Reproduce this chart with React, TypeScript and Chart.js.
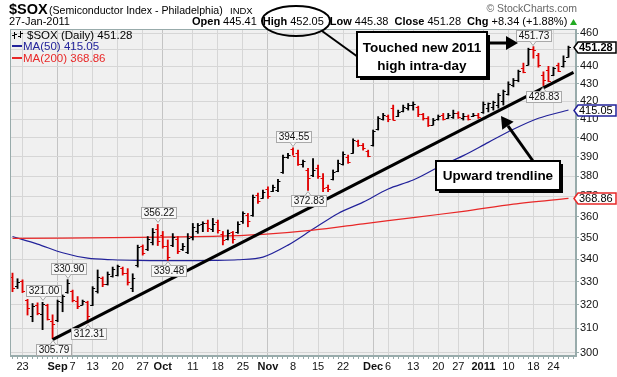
import React, { useEffect, useRef } from "react";
import { Chart, registerables } from "chart.js";
Chart.register(...registerables);

const FONT = "'Liberation Sans', Arial, Helvetica, sans-serif";

// ---- trading days ----
const augDays = [19, 20, 23, 24, 25, 26, 27, 30, 31];
const sepDays = [1, 2, 3, 7, 8, 9, 10, 13, 14, 15, 16, 17, 20, 21, 22, 23, 24, 27, 28, 29, 30];
const octDays = [1, 4, 5, 6, 7, 8, 11, 12, 13, 14, 15, 18, 19, 20, 21, 22, 25, 26, 27, 28, 29];
const novDays = [1, 2, 3, 4, 5, 8, 9, 10, 11, 12, 15, 16, 17, 18, 19, 22, 23, 24, 26, 29, 30];
const decDays = [1, 2, 3, 6, 7, 8, 9, 10, 13, 14, 15, 16, 17, 20, 21, 22, 23, 27, 28, 29, 30, 31];
const janDays = [3, 4, 5, 6, 7, 10, 11, 12, 13, 14, 18, 19, 20, 21, 24, 25, 26, 27];
const spareSlot = ["Jan 28"]; // empty slot at right edge

const days: string[] = [
  ...augDays.map((d) => `Aug ${d}`),
  ...sepDays.map((d) => `Sep ${d}`),
  ...octDays.map((d) => `Oct ${d}`),
  ...novDays.map((d) => `Nov ${d}`),
  ...decDays.map((d) => `Dec ${d}`),
  ...janDays.map((d) => `Jan ${d}`),
  ...spareSlot,
];

// ---- OHLC ----
const open = [
  332, 328, 330.5, 322, 315, 320, 316, 319.8, 313, 313.5, 321, 325.5, 326, 321.5, 320, 321, 320, 326, 331.5, 329,
  332.5, 333, 336, 334, 327, 337.5, 346, 344.5, 348, 354, 351, 346, 346.5, 349.5, 344.5, 343.5, 350.5, 353, 356.5, 357,
  354, 357.5, 351.5, 349.5, 352.5, 352.5, 358, 360.5, 360.5, 370.5, 369, 373.5, 372.5, 373, 382, 390, 394, 392, 386, 383,
  380.5, 384, 379, 374.5, 378.5, 382.5, 386, 390, 392, 398, 396, 393, 396, 404.5, 410, 412, 416, 411.5, 414.5, 416,
  418, 417, 413, 410.5, 407, 410, 412.5, 410.5, 411, 413.5, 410.5, 412, 411.5, 412.5, 414, 416, 417, 418, 420, 424,
  429, 432, 439, 441, 450.5, 447, 435, 438, 435, 441, 440, 445.41,
];
const high = [
  333.8, 331.3, 330.8, 322.3, 320.5, 320.8, 321, 320.2, 315.7, 322, 324.2, 330.9, 326.3, 323.5, 322, 321.5, 327.8, 335.2, 332.1, 334.3,
  336.5, 337.4, 336.5, 335.8, 333.5, 346.5, 346.6, 350.5, 354.3, 356.22, 352.9, 348.9, 351.9, 350.5, 347.3, 351.9, 356.7, 356.7, 357.5, 358.3,
  359.1, 358.3, 352.9, 353.6, 352.9, 357.5, 362.3, 361.5, 370.5, 371.4, 373, 374.6, 375.5, 378.3, 390.8, 391.7, 394.55, 393.4, 388.2, 384,
  389, 385.6, 381.3, 375.5, 383.1, 388.2, 392.5, 390.8, 399.4, 398.7, 396.9, 393.4, 404.1, 411.4, 413.2, 412.3, 417.8, 415, 417.8, 418.7,
  419.6, 417.2, 413.2, 411.4, 410.4, 412.3, 413.2, 413.2, 415, 414.1, 413.2, 412.3, 413.2, 413.2, 419.6, 419, 420, 424.3, 426.3, 431,
  432.9, 437.8, 441.9, 450.8, 451.73, 447.7, 436.8, 440, 439.5, 441.9, 446.2, 452.05,
];
const low = [
  325.6, 327, 325.2, 315.6, 312.8, 315.7, 309.5, 313.5, 305.79, 312.8, 317, 324.9, 321.2, 318.3, 319.9, 312.31, 319.6, 325, 327.8, 328.5,
  332, 332.5, 332.9, 328.5, 325.6, 336.5, 341.9, 344, 346.6, 346.3, 345.1, 339.48, 345.8, 342.6, 344, 342.6, 348.9, 352, 352.8, 352.8,
  352.8, 352.1, 346.6, 348.9, 347.4, 352, 356.7, 355.1, 360.1, 366.4, 368.8, 368.8, 372.2, 372.2, 381.4, 389.1, 390.8, 385.5, 384.6, 372.83,
  379.7, 378.8, 372.2, 372.2, 378, 382.2, 385.6, 386.5, 391.7, 395.3, 393.4, 389.9, 395.5, 404.1, 409.5, 408.6, 409.5, 411.4, 414, 415,
  415, 411.4, 409.5, 406, 406.8, 409.5, 409.5, 410.4, 410.4, 410.4, 409.5, 409.5, 411.4, 410.4, 413.2, 414, 415, 416.1, 417.8, 423.4,
  428.1, 431, 436.2, 440.7, 444.8, 439.5, 428.83, 431, 434.5, 436.9, 439.5, 445.38,
];
const close = [
  327, 330, 325.8, 318.5, 319.5, 316.5, 320.5, 314, 312, 321.5, 323.8, 329.5, 322, 319.5, 321.5, 315, 327, 332, 329, 333.5,
  335.5, 336.8, 334, 330, 331.5, 345.5, 343, 349.5, 352.5, 348.5, 346, 341, 350.5, 344, 346, 350, 355, 356, 357, 354.5,
  356.5, 353.5, 349, 352, 349.5, 356.5, 361.5, 358, 369.5, 367.5, 372, 370, 374.5, 377.5, 390, 391, 390.5, 386, 387.5, 379,
  383, 380, 374, 373.5, 382, 386.5, 391.5, 387, 398.5, 396, 394.5, 390.5, 403.5, 410.5, 412.5, 410, 409.8, 414, 417, 418,
  418.5, 413, 410.5, 407, 409.5, 411.5, 410, 412.5, 413.5, 411, 412, 410, 412.5, 411, 418.5, 418.8, 419.5, 423.5, 425.5, 430,
  432, 437, 436.5, 450.5, 449.5, 440.5, 432, 431.5, 439, 437.5, 442.94, 451.28,
];

// ---- moving averages (read at weekly points) ----
const ma50Days = ["Aug 19", "Aug 26", "Sep 2", "Sep 10", "Sep 17", "Sep 24", "Oct 1", "Oct 8", "Oct 15", "Oct 22", "Oct 29", "Nov 5", "Nov 12", "Nov 19", "Nov 29", "Dec 6", "Dec 13", "Dec 20", "Dec 28", "Jan 4", "Jan 11", "Jan 19", "Jan 27"];
const ma50Values = [350.5, 347, 343, 340.5, 339.8, 339.5, 339.4, 339.4, 339.5, 339.8, 341, 346.5, 354, 361.5, 367, 373.5, 378, 384.5, 390.5, 397.5, 404.5, 410.5, 415.05];
const ma200Days = ["Aug 19", "Sep 17", "Oct 15", "Oct 29", "Nov 12", "Nov 29", "Dec 13", "Dec 28", "Jan 11", "Jan 27"];
const ma200Values = [349.6, 350, 350.6, 351.5, 353.5, 356.5, 359.5, 362.5, 366, 368.86];

// ---- trendline ----
const trendDays = ["Aug 31", "Jan 28"];
const trendValues = [305.4, 436.5];

// ---- swing labels ----
const swingDays = ["Aug 27", "Aug 31", "Sep 3", "Sep 10", "Sep 30", "Oct 4", "Nov 8", "Nov 11", "Jan 18", "Jan 20"];
const swingKinds = ["high", "low", "high", "low", "high", "low", "high", "low", "high", "low"];

// ---- axis ticks ----
const yTicks = [300, 310, 320, 330, 340, 350, 360, 370, 380, 390, 400, 410, 420, 430, 440, 450, 460];
const tickDays = ["Aug 23", "Sep 1", "Sep 7", "Sep 13", "Sep 20", "Sep 27", "Oct 1", "Oct 11", "Oct 18", "Oct 25", "Nov 1", "Nov 8", "Nov 15", "Nov 22", "Dec 1", "Dec 6", "Dec 13", "Dec 20", "Dec 27", "Jan 3", "Jan 10", "Jan 18", "Jan 24"];
const tickTexts = ["23", "Sep", "7", "13", "20", "27", "Oct", "11", "18", "25", "Nov", "8", "15", "22", "Dec", "6", "13", "20", "27", "2011", "10", "18", "24"];
const monthTicks = ["Sep", "Oct", "Nov", "Dec", "2011"];

const tickMap: Record<string, string> = {};
tickDays.forEach((d, i) => (tickMap[d] = tickTexts[i]));

function sparse(keys: string[], vals: number[]) {
  return days.map((d) => {
    const k = keys.indexOf(d);
    return k >= 0 ? vals[k] : null;
  });
}

const BLACK = "#000000";
const RED = "#e00000";
const BLUE = "#22229a";
const MARED = "#e82828";
const FRAME = "#98abab";

function barColor(i: number) {
  const prev = i > 0 ? close[i - 1] : open[i];
  return close[i] >= prev ? BLACK : RED;
}

function priceLabel(ctx: CanvasRenderingContext2D, x: number, y: number, text: string, above: boolean) {
  ctx.font = `10px ${FONT}`;
  const w = Math.round(ctx.measureText(text).width + 4);
  const h = 11;
  const bx = Math.round(x - w / 2) + 0.5;
  const by = above ? Math.round(y - 6 - h) + 0.5 : Math.round(y + 5) + 0.5;
  ctx.fillStyle = "#f8f8f8";
  ctx.strokeStyle = "#a9a9a9";
  ctx.lineWidth = 1;
  ctx.fillRect(bx, by, w, h);
  ctx.strokeRect(bx, by, w, h);
  ctx.beginPath();
  if (above) {
    ctx.moveTo(x - 3, by + h);
    ctx.lineTo(x, by + h + 4);
    ctx.lineTo(x + 3, by + h);
  } else {
    ctx.moveTo(x - 3, by);
    ctx.lineTo(x, by - 4);
    ctx.lineTo(x + 3, by);
  }
  ctx.fillStyle = "#f8f8f8";
  ctx.fill();
  ctx.stroke();
  ctx.fillStyle = "#111";
  ctx.textAlign = "center";
  ctx.textBaseline = "middle";
  ctx.fillText(text, bx + w / 2, by + h / 2 + 0.5);
}

function valueBox(ctx: CanvasRenderingContext2D, x0: number, y: number, text: string, color: string, bold: boolean, lw: number) {
  const yy = Math.round(y) + 0.5;
  const left = x0 + 4;
  const right = 616;
  const h = 11;
  ctx.beginPath();
  ctx.moveTo(x0, yy);
  ctx.lineTo(left, yy - h / 2);
  ctx.lineTo(right, yy - h / 2);
  ctx.lineTo(right, yy + h / 2);
  ctx.lineTo(left, yy + h / 2);
  ctx.closePath();
  ctx.fillStyle = "#fff";
  ctx.fill();
  ctx.strokeStyle = color;
  ctx.lineWidth = lw;
  ctx.stroke();
  ctx.fillStyle = "#000";
  ctx.font = `${bold ? "bold " : ""}11px ${FONT}`;
  ctx.textAlign = "left";
  ctx.textBaseline = "middle";
  ctx.fillText(text, left + 1, yy + 0.5);
}

function arrow(ctx: CanvasRenderingContext2D, x1: number, y1: number, x2: number, y2: number) {
  const ang = Math.atan2(y2 - y1, x2 - x1);
  const hl = 12;
  const hw = 7;
  const bx = x2 - hl * Math.cos(ang);
  const by = y2 - hl * Math.sin(ang);
  ctx.strokeStyle = "#000";
  ctx.lineWidth = 3;
  ctx.beginPath();
  ctx.moveTo(x1, y1);
  ctx.lineTo(bx, by);
  ctx.stroke();
  ctx.fillStyle = "#000";
  ctx.beginPath();
  ctx.moveTo(x2, y2);
  ctx.lineTo(bx + hw * Math.sin(ang), by - hw * Math.cos(ang));
  ctx.lineTo(bx - hw * Math.sin(ang), by + hw * Math.cos(ang));
  ctx.closePath();
  ctx.fill();
}

function calloutBox(ctx: CanvasRenderingContext2D, x: number, y: number, w: number, h: number, lines: string[], baselines: number[]) {
  ctx.fillStyle = "#000";
  ctx.fillRect(x + 3, y + 3, w, h);
  ctx.fillStyle = "#fff";
  ctx.fillRect(x, y, w, h);
  ctx.strokeStyle = "#000";
  ctx.lineWidth = 2;
  ctx.strokeRect(x, y, w, h);
  ctx.fillStyle = "#000";
  ctx.font = `bold 13.5px ${FONT}`;
  ctx.textAlign = "center";
  ctx.textBaseline = "alphabetic";
  lines.forEach((t, i) => ctx.fillText(t, x + w / 2, baselines[i]));
}

const decorPlugin = {
  id: "decor",
  beforeDraw(chart: any) {
    const { ctx, chartArea: a } = chart;
    ctx.save();
    ctx.fillStyle = "#ffffff";
    ctx.fillRect(0, 0, chart.width, chart.height);
    ctx.fillStyle = "#f0f0f0";
    ctx.fillRect(a.left, a.top, a.right - a.left, a.bottom - a.top);
    ctx.restore();
  },
  afterDatasetDraw(chart: any, args: any) {
    if (args.index !== 0) return;
    const { ctx } = chart;
    const xs = chart.scales.x;
    const ys = chart.scales.y;
    ctx.save();
    ctx.lineWidth = 1;
    for (let i = 0; i < close.length; i++) {
      const px = xs.getPixelForValue(i);
      const oy = Math.round(ys.getPixelForValue(open[i])) + 0.5;
      const cy = Math.round(ys.getPixelForValue(close[i])) + 0.5;
      ctx.strokeStyle = barColor(i);
      ctx.beginPath();
      ctx.moveTo(px - 2.5, oy);
      ctx.lineTo(px, oy);
      ctx.moveTo(px, cy);
      ctx.lineTo(px + 2.5, cy);
      ctx.stroke();
    }
    ctx.restore();
  },
  afterDraw(chart: any) {
    const { ctx, chartArea: a } = chart;
    const xs = chart.scales.x;
    const ys = chart.scales.y;
    ctx.save();
    // frame
    ctx.strokeStyle = FRAME;
    ctx.lineWidth = 1;
    ctx.strokeRect(Math.round(a.left) + 0.5, Math.round(a.top) + 0.5, Math.round(a.right - a.left) - 1, Math.round(a.bottom - a.top) - 1);

    // swing labels
    swingDays.forEach((d, k) => {
      const i = days.indexOf(d);
      const isHigh = swingKinds[k] === "high";
      const v = isHigh ? high[i] : low[i];
      priceLabel(ctx, Math.round(xs.getPixelForValue(i)), ys.getPixelForValue(v), v.toFixed(2), isHigh);
    });

    // legend
    const last = close.length - 1;
    ctx.textAlign = "left";
    ctx.textBaseline = "alphabetic";
    ctx.font = `11.5px ${FONT}`;
    ctx.strokeStyle = "#000";
    ctx.lineWidth = 1;
    ctx.beginPath();
    ctx.moveTo(14.5, 32); ctx.lineTo(14.5, 39);
    ctx.moveTo(12, 35.5); ctx.lineTo(14.5, 35.5);
    ctx.moveTo(14.5, 34.5); ctx.lineTo(17, 34.5);
    ctx.moveTo(20.5, 31); ctx.lineTo(20.5, 38);
    ctx.moveTo(18, 36.5); ctx.lineTo(20.5, 36.5);
    ctx.moveTo(20.5, 33.5); ctx.lineTo(23, 33.5);
    ctx.stroke();
    ctx.fillStyle = "#000";
    ctx.fillText(`$SOX (Daily) ${close[last].toFixed(2)}`, 27, 39);
    ctx.fillStyle = BLUE;
    ctx.fillRect(12, 45, 10, 2);
    ctx.fillText(`MA(50) ${ma50Values[ma50Values.length - 1].toFixed(2)}`, 23, 50);
    ctx.fillStyle = MARED;
    ctx.fillRect(12, 57, 10, 2);
    ctx.fillText(`MA(200) ${ma200Values[ma200Values.length - 1].toFixed(2)}`, 23, 62);

    // right value boxes
    const x0 = Math.round(a.right) - 2;
    valueBox(ctx, x0, ys.getPixelForValue(ma200Values[ma200Values.length - 1]), ma200Values[ma200Values.length - 1].toFixed(2), MARED, false, 1.5);
    valueBox(ctx, x0, ys.getPixelForValue(ma50Values[ma50Values.length - 1]), ma50Values[ma50Values.length - 1].toFixed(2), BLUE, false, 1.5);
    valueBox(ctx, x0, ys.getPixelForValue(close[last]), close[last].toFixed(2), "#000", true, 1.5);

    // header
    ctx.fillStyle = "#000";
    ctx.textAlign = "left";
    ctx.textBaseline = "alphabetic";
    ctx.font = `bold 14.5px ${FONT}`;
    ctx.fillText("$SOX", 9, 14);
    ctx.font = `10.6px ${FONT}`;
    ctx.fillText("(Semiconductor Index - Philadelphia)", 49, 14);
    ctx.font = `9.5px ${FONT}`;
    ctx.fillText("INDX", 230, 14);
    ctx.font = `11px ${FONT}`;
    ctx.fillText("27-Jan-2011", 9, 25);
    ctx.fillStyle = "#666";
    ctx.font = `10.5px ${FONT}`;
    ctx.textAlign = "right";
    ctx.fillText("\u00a9 StockCharts.com", 577, 12);
    ctx.textAlign = "left";
    const chg = close[last] - close[last - 1];
    const runs: [string, boolean][] = [
      ["Open", true], [open[last].toFixed(2), false],
      ["High", true], [high[last].toFixed(2), false],
      ["Low", true], [low[last].toFixed(2), false],
      ["Close", true], [close[last].toFixed(2), false],
      ["Chg", true], [`+${chg.toFixed(2)} (+${((chg / close[last - 1]) * 100).toFixed(2)}%)`, false],
    ];
    let hx = 192;
    ctx.fillStyle = "#000";
    runs.forEach(([t, b]) => {
      ctx.font = `${b ? "bold " : ""}11px ${FONT}`;
      ctx.fillText(t, hx, 25);
      hx += ctx.measureText(t).width + (b ? 3 : 6);
    });
    ctx.fillStyle = "#22aa22";
    ctx.beginPath();
    ctx.moveTo(570, 25);
    ctx.lineTo(577, 25);
    ctx.lineTo(573.5, 19);
    ctx.closePath();
    ctx.fill();

    // ellipse annotation
    ctx.strokeStyle = "#000";
    ctx.lineWidth = 2;
    ctx.beginPath();
    ctx.ellipse(296, 21, 34, 15, 0, 0, Math.PI * 2);
    ctx.stroke();
    ctx.beginPath();
    ctx.moveTo(322, 31);
    ctx.lineTo(358, 57);
    ctx.stroke();

    // callouts
    calloutBox(ctx, 357, 32, 130, 45, ["Touched new 2011", "high intra-day"], [52, 70]);
    arrow(ctx, 488, 43, 518, 43);
    calloutBox(ctx, 436, 161, 124, 29, ["Upward trendline"], [180]);
    arrow(ctx, 533, 161, 501, 116);

    ctx.restore();
  },
};

export default function App() {
  const ref = useRef<HTMLCanvasElement | null>(null);
  useEffect(() => {
    if (!ref.current) return;
    const ohlcRange = days.map((_, i) => (i < close.length ? [low[i], high[i]] : null));
    const chart = new Chart(ref.current, {
      type: "bar",
      data: {
        labels: days,
        datasets: [
          {
            type: "bar",
            label: "$SOX",
            data: ohlcRange as any,
            backgroundColor: days.map((_, i) => (i < close.length ? barColor(i) : BLACK)),
            borderWidth: 0,
            barThickness: 1.2,
            order: 2,
          },
          {
            type: "line",
            label: "MA(50)",
            data: sparse(ma50Days, ma50Values) as any,
            borderColor: BLUE,
            borderWidth: 1.2,
            pointRadius: 0,
            spanGaps: true,
            tension: 0.3,
            order: 4,
          },
          {
            type: "line",
            label: "MA(200)",
            data: sparse(ma200Days, ma200Values) as any,
            borderColor: MARED,
            borderWidth: 1.2,
            pointRadius: 0,
            spanGaps: true,
            tension: 0.3,
            order: 3,
          },
          {
            type: "line",
            label: "Trend",
            data: sparse(trendDays, trendValues) as any,
            borderColor: "#000",
            borderWidth: 3,
            pointRadius: 0,
            spanGaps: true,
            order: 0,
          },
        ],
      },
      options: {
        animation: false,
        responsive: false,
        maintainAspectRatio: false,
        devicePixelRatio: 1,
        layout: { padding: { left: 10, top: 29, right: 0, bottom: 0 } },
        plugins: { legend: { display: false }, tooltip: { enabled: false } },
        scales: {
          x: {
            type: "category",
            offset: true,
            grid: {
              offset: false,
              color: (c: any) => {
                const t = tickMap[days[c.index]];
                if (!t) return "rgba(0,0,0,0)";
                return monthTicks.includes(t) ? "#c4c4c4" : "#d6d6d6";
              },
              tickColor: FRAME,
              tickLength: 3,
              lineWidth: 1,
            },
            border: { color: FRAME },
            ticks: {
              autoSkip: false,
              maxRotation: 0,
              minRotation: 0,
              padding: 1,
              color: "#111",
              font: (c: any) => {
                const t = tickMap[days[c.index]];
                return { family: FONT, size: 11, weight: t && monthTicks.includes(t) ? "bold" : "normal" } as any;
              },
              callback: (_v: any, i: number) => tickMap[days[i]] || "",
            },
            afterFit: (s: any) => {
              s.height = 21;
            },
          },
          y: {
            type: "logarithmic",
            position: "right",
            min: 298.8,
            max: 462.5,
            afterBuildTicks: (s: any) => {
              s.ticks = yTicks.map((v) => ({ value: v }));
            },
            grid: { color: "#d6d6d6", tickColor: FRAME, tickLength: 3 },
            border: { color: FRAME },
            ticks: {
              padding: 1,
              color: "#111",
              font: { family: FONT, size: 11 },
              callback: (v: any) => String(v),
            },
            afterFit: (s: any) => {
              s.width = 41;
            },
          },
        },
      },
      plugins: [decorPlugin],
    } as any);
    return () => chart.destroy();
  }, []);
  return (
    <canvas
      ref={ref}
      width={617}
      height={377}
      style={{ position: "fixed", left: 0, top: 0, width: 617, height: 377, display: "block" }}
    />
  );
}
